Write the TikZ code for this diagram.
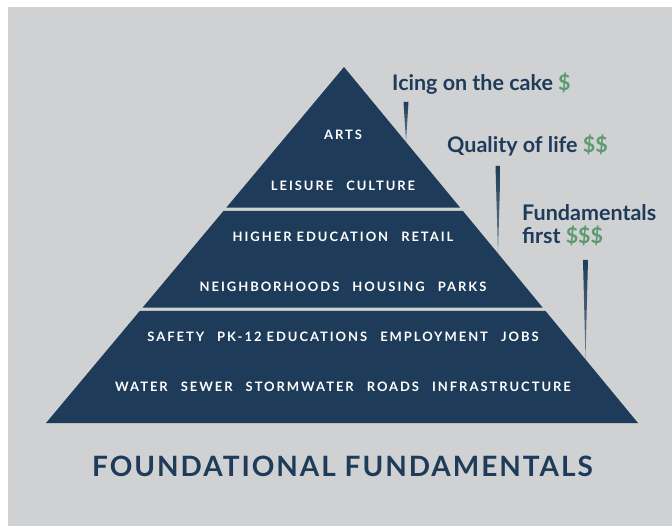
\documentclass[tikz,border=0pt]{standalone}
\usepackage{fontspec}
\setmainfont{Lato}
\newfontfamily\capsfont{Lato}[LetterSpace=15]
\newfontfamily\titlefont{Lato}[LetterSpace=7]
\usetikzlibrary{calc}
\definecolor{navy}{HTML}{1E3C5A}
\definecolor{bggray}{HTML}{D0D1D3}
\definecolor{money}{HTML}{5C9A70}
\tikzset{
  tier/.style={fill=navy, draw=none},
  tierlabel/.style={text=white, font=\capsfont\bfseries\fontsize{13}{15}\selectfont, inner sep=0pt, anchor=center},
  callout/.style={text=navy, font=\bfseries\fontsize{21.5}{23}\selectfont, inner sep=0pt, anchor=base west, align=left},
  spike/.style={top color=navy, bottom color=navy!55!bggray, draw=none},
}
\newcommand{\gp}{\hspace{1.0em}}
\begin{document}
\begin{tikzpicture}[x=1pt,y=-1pt]
\useasboundingbox (0,0) rectangle (672,526);
\fill[white] (0,0) rectangle (672,526);
\fill[bggray] (8,7) rectangle (672,526);
% pyramid corners
\coordinate (A) at (344,67);
\coordinate (L) at (46,423);
\coordinate (R) at (638,423);
% tiers
\fill[tier] (A) -- ($(A)!0.3947!(R)$) -- ($(A)!0.3947!(L)$) -- cycle;
\fill[tier] ($(A)!0.4045!(L)$) -- ($(A)!0.4045!(R)$) -- ($(A)!0.6756!(R)$) -- ($(A)!0.6756!(L)$) -- cycle;
\fill[tier] ($(A)!0.6854!(L)$) -- ($(A)!0.6854!(R)$) -- (R) -- (L) -- cycle;
% labels
\node[tierlabel] (arts) at (343,135) {ARTS};
\node[tierlabel] (leisure) at (343,186) {LEISURE\gp CULTURE};
\node[tierlabel] (higher) at (343,237) {HIGHER EDUCATION\gp RETAIL};
\node[tierlabel] (neigh) at (343,287) {NEIGHBORHOODS\gp HOUSING\gp PARKS};
\node[tierlabel] (safety) at (343,337) {SAFETY\gp PK-12 EDUCATIONS\gp EMPLOYMENT\gp JOBS};
\node[tierlabel] (water) at (343,387) {WATER\gp SEWER\gp STORMWATER\gp ROADS\gp INFRASTRUCTURE};
% spike tips on the right edge
\coordinate (tip1) at ($(A)!0.2109!(R)$);
\coordinate (tip2) at ($(A)!0.5238!(R)$);
\coordinate (tip3) at ($(A)!0.8214!(R)$);
\shade[spike] ($(tip1|-0,102)+(-2.5,0)$) -- ($(tip1|-0,102)+(2.5,0)$) -- (tip1) -- cycle;
\shade[spike] ($(tip2|-0,166)+(-2.5,0)$) -- ($(tip2|-0,166)+(2.5,0)$) -- (tip2) -- cycle;
\shade[spike] ($(tip3|-0,260)+(-2.5,0)$) -- ($(tip3|-0,260)+(2.5,0)$) -- (tip3) -- cycle;
% callouts
\node[callout] (icing) at (392,91) {Icing on the cake \textcolor{money}{\$}};
\node[callout] (quality) at (447,152.5) {Quality of life \textcolor{money}{\$\$}};
\node[callout] (fund) at (522,244) {Fundamentals\\first \textcolor{money}{\$\$\$}};
% title
\node[text=navy, font=\titlefont\bfseries\fontsize{28}{30}\selectfont, inner sep=0pt, anchor=base] (title) at (342.5,476) {FOUNDATIONAL FUNDAMENTALS};
\end{tikzpicture}
\end{document}
